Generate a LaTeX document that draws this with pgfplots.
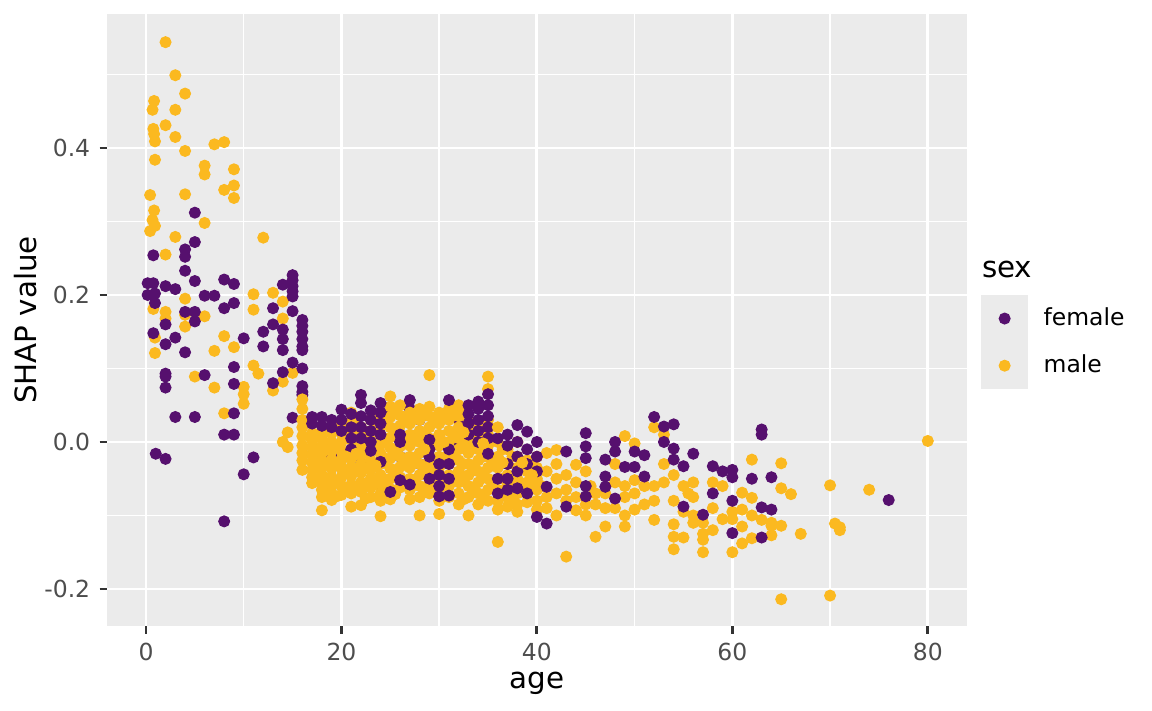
\documentclass[border=0pt]{standalone}
\usepackage{pgfplots}
\pgfplotsset{compat=1.18}
\usepackage{pgfplotstable}
\usepackage{fontspec}
\setmainfont{DejaVu Sans}
\definecolor{fem}{RGB}{86,16,110}
\definecolor{mal}{RGB}{251,185,32}
\definecolor{panelbg}{RGB}{235,235,235}
\definecolor{tickcol}{RGB}{51,51,51}
\definecolor{labcol}{RGB}{77,77,77}
\pgfplotsset{
  mystyle/.style={only marks, mark=*, mark size=2.05pt, color=#1,
    mark options={solid, line width=0.4pt, draw=#1, fill=#1}},
  keylegend/.style={legend image code/.code={
    \fill[panelbg] (-8.64pt,-8.64pt) rectangle (8.64pt,8.64pt);
    \draw[##1] plot coordinates {(0pt,0pt)};}},
}

% male, ages < 16
\pgfplotstableread[row sep=\\]{x y\\
2 0.544\\ 3 0.499\\ 4 0.474\\ 0.83 0.464\\ 0.67 0.452\\ 3 0.452\\ 0.75 0.426\\ 2 0.431\\
0.83 0.419\\ 0.92 0.409\\ 3 0.415\\ 4 0.396\\ 7 0.405\\ 8 0.408\\ 0.92 0.384\\ 6 0.376\\
6 0.364\\ 9 0.371\\ 9 0.349\\ 8 0.343\\ 9 0.332\\ 0.42 0.336\\ 4 0.337\\ 0.83 0.315\\
0.67 0.302\\ 0.92 0.294\\ 0.42 0.287\\ 6 0.298\\ 3 0.279\\ 12 0.278\\ 2 0.255\\ 4 0.195\\
0.75 0.181\\ 2 0.177\\ 2 0.168\\ 4 0.173\\ 4 0.157\\ 6 0.171\\ 0.92 0.142\\ 0.92 0.121\\
8 0.144\\ 7 0.124\\ 9 0.129\\ 5 0.089\\ 7 0.074\\ 10 0.075\\ 10 0.065\\ 10 0.052\\
11 0.104\\ 11.5 0.093\\ 11 0.201\\ 11 0.180\\ 13 0.203\\ 14 0.191\\ 14 0.168\\ 15 0.094\\
14 0.082\\ 13 0.070\\ 8 0.039\\ 14.5 0.013\\ 14 0.000\\ 14.5 -0.007\\
}\maleA

% female, ages <= 16
\pgfplotstableread[row sep=\\]{x y\\
0.17 0.216\\ 0.75 0.216\\ 0.17 0.200\\ 0.92 0.202\\ 0.92 0.189\\ 0.75 0.254\\ 0.75 0.148\\
1 -0.016\\ 2 -0.023\\ 2 0.212\\ 2 0.160\\ 2 0.133\\ 2 0.093\\ 2 0.089\\ 2 0.074\\
3 0.208\\ 3 0.142\\ 3 0.034\\ 4 0.262\\ 4 0.252\\ 4 0.233\\ 4 0.177\\ 4 0.122\\
5 0.312\\ 5 0.272\\ 5 0.219\\ 5 0.177\\ 5 0.164\\ 5 0.034\\ 6 0.199\\ 6 0.091\\ 7 0.199\\
8 0.221\\ 8 0.182\\ 8 0.010\\ 8 -0.108\\ 9 0.215\\ 9 0.189\\ 9 0.102\\ 9 0.079\\ 9 0.039\\
9 0.010\\ 10 0.141\\ 10 -0.044\\ 11 -0.021\\ 12 0.150\\ 12 0.130\\ 13 0.182\\ 13 0.160\\
13 0.080\\ 14 0.214\\ 14 0.153\\ 14 0.140\\ 14 0.125\\ 14 0.095\\ 15 0.227\\ 15 0.220\\
15 0.212\\ 15 0.205\\ 15 0.198\\ 15 0.178\\ 15 0.108\\ 15 0.033\\ 16 0.166\\ 16 0.158\\
16 0.150\\ 16 0.140\\ 16 0.130\\ 16 0.125\\ 16 0.100\\ 16 0.076\\ 16 0.068\\ 16 0.064\\
}\femA

% female, ages 17-40, drawn under the males
\pgfplotstableread[row sep=\\]{x y\\
25 0.045\\ 27 0.045\\ 28 0.030\\ 32 0.030\\ 32 -0.050\\ 19 -0.020\\ 22 -0.030\\
23 -0.055\\ 24 -0.060\\ 26 -0.020\\ 28 -0.030\\ 32 0.000\\
}\femB

% male, ages >= 16
\pgfplotstableread[row sep=\\]{x y\\
16 0.058\\ 16 0.045\\ 16 0.030\\
16 0.020\\ 16 0.008\\ 16 -0.005\\ 16 -0.015\\ 16 -0.025\\ 16 -0.038\\
17 0.012\\ 17 0.002\\ 17 -0.008\\ 17 -0.018\\ 17 -0.028\\ 17 -0.038\\ 17 -0.048\\ 17 -0.056\\
18 0.015\\ 18 0.005\\ 18 -0.005\\ 18 -0.015\\ 18 -0.025\\ 18 -0.035\\ 18 -0.045\\ 18 -0.055\\
18 -0.065\\ 18 -0.075\\ 18 -0.093\\
19 0.012\\ 19 0.000\\ 19 -0.012\\ 19 -0.024\\ 19 -0.036\\ 19 -0.048\\ 19 -0.060\\ 19 -0.070\\ 19 -0.079\\
20 0.025\\ 20 0.012\\ 20 0.000\\ 20 -0.012\\ 20 -0.024\\ 20 -0.036\\ 20 -0.048\\ 20 -0.060\\ 20 -0.072\\
21 0.040\\ 21 0.028\\ 21 0.015\\ 21 0.003\\ 21 -0.010\\ 21 -0.022\\ 21 -0.034\\ 21 -0.046\\
21 -0.058\\ 21 -0.070\\ 21 -0.088\\
22 0.020\\ 22 0.008\\ 22 -0.005\\ 22 -0.018\\ 22 -0.030\\ 22 -0.042\\ 22 -0.055\\ 22 -0.068\\ 22 -0.086\\
23 0.030\\ 23 0.015\\ 23 0.002\\ 23 -0.012\\ 23 -0.025\\ 23 -0.038\\ 23 -0.050\\ 23 -0.062\\ 23 -0.075\\
24 0.035\\ 24 0.022\\ 24 0.010\\ 24 -0.003\\ 24 -0.016\\ 24 -0.030\\ 24 -0.045\\ 24 -0.058\\
24 -0.070\\ 24 -0.080\\ 24 -0.101\\
25 0.062\\ 25 0.048\\ 25 0.034\\ 25 0.020\\ 25 0.006\\ 25 -0.008\\ 25 -0.022\\ 25 -0.036\\
25 -0.050\\ 25 -0.064\\ 25 -0.078\\
26 0.050\\ 26 0.036\\ 26 0.022\\ 26 0.008\\ 26 -0.006\\ 26 -0.020\\ 26 -0.034\\ 26 -0.048\\ 26 -0.062\\
27 0.040\\ 27 0.025\\ 27 0.010\\ 27 -0.005\\ 27 -0.020\\ 27 -0.035\\ 27 -0.050\\ 27 -0.065\\ 27 -0.078\\
28 0.045\\ 28 0.030\\ 28 0.015\\ 28 0.000\\ 28 -0.015\\ 28 -0.030\\ 28 -0.045\\ 28 -0.060\\
28 -0.075\\ 28 -0.100\\
29 0.091\\ 29 0.048\\ 29 0.035\\ 29 0.020\\ 29 0.005\\ 29 -0.010\\ 29 -0.025\\ 29 -0.040\\
29 -0.055\\ 29 -0.070\\
30 0.040\\ 30 0.025\\ 30 0.010\\ 30 -0.005\\ 30 -0.020\\ 30 -0.035\\ 30 -0.050\\ 30 -0.065\\
30 -0.080\\ 30 -0.098\\
31 0.045\\ 31 0.030\\ 31 0.015\\ 31 0.000\\ 31 -0.015\\ 31 -0.030\\ 31 -0.045\\ 31 -0.060\\ 31 -0.075\\
32 0.050\\ 32 0.035\\ 32 0.020\\ 32 0.005\\ 32 -0.010\\ 32 -0.025\\ 32 -0.040\\ 32 -0.055\\
32 -0.070\\ 32 -0.085\\
33 0.030\\ 33 0.015\\ 33 0.000\\ 33 -0.015\\ 33 -0.030\\ 33 -0.045\\ 33 -0.060\\ 33 -0.075\\ 33 -0.100\\
34 0.020\\ 34 0.005\\ 34 -0.010\\ 34 -0.025\\ 34 -0.040\\ 34 -0.055\\ 34 -0.070\\ 34 -0.085\\
35 0.089\\ 35 0.072\\ 35 0.030\\ 35 0.010\\ 35 -0.005\\ 35 -0.020\\ 35 -0.035\\ 35 -0.050\\
35 -0.065\\ 35 -0.080\\
36 0.000\\ 36 -0.020\\ 36 -0.035\\ 36 -0.050\\ 36 -0.065\\ 36 -0.080\\ 36 -0.092\\
36 -0.136\\ 36.5 -0.050\\
37 -0.010\\ 37 -0.030\\ 37 -0.045\\ 37 -0.060\\ 37 -0.075\\ 37 -0.088\\
38 0.000\\ 38 -0.020\\ 38 -0.035\\ 38 -0.050\\ 38 -0.070\\ 38 -0.085\\ 38 -0.095\\
39 -0.025\\ 39 -0.040\\ 39 -0.055\\ 39 -0.070\\ 39 -0.082\\
40 -0.020\\ 40 -0.035\\ 40 -0.050\\ 40 -0.065\\ 40 -0.080\\ 40 -0.092\\ 40.5 -0.060\\
17.5 -0.013\\ 17.5 -0.033\\ 17.5 -0.052\\
18.5 -0.010\\ 18.5 -0.030\\ 18.5 -0.050\\ 18.5 -0.070\\
19.5 -0.006\\ 19.5 -0.030\\ 19.5 -0.054\\ 19.5 -0.074\\
20.5 0.006\\ 20.5 -0.042\\ 20.5 -0.066\\
21.5 0.022\\ 21.5 0.000\\ 21.5 -0.040\\ 21.5 -0.064\\
22.5 0.014\\ 22.5 -0.012\\ 22.5 -0.036\\ 22.5 -0.060\\ 22.5 -0.077\\
23.5 0.022\\ 23.5 -0.005\\ 23.5 -0.056\\
24.5 0.028\\ 24.5 0.004\\ 24.5 -0.023\\ 24.5 -0.051\\ 24.5 -0.075\\
25.5 0.041\\ 25.5 0.013\\ 25.5 -0.015\\ 25.5 -0.043\\ 25.5 -0.071\\
26.5 0.029\\ 26.5 0.001\\ 26.5 -0.027\\ 26.5 -0.055\\
27.5 0.032\\ 27.5 0.003\\ 27.5 -0.028\\ 27.5 -0.058\\
28.5 0.038\\ 28.5 0.008\\ 28.5 -0.038\\ 28.5 -0.068\\
29.5 0.028\\ 29.5 -0.002\\ 29.5 -0.033\\ 29.5 -0.062\\
30.5 0.032\\ 30.5 -0.028\\ 30.5 -0.058\\
31.5 0.038\\ 31.5 0.008\\ 31.5 -0.022\\ 31.5 -0.052\\
32.5 0.043\\ 32.5 -0.003\\ 32.5 -0.030\\ 32.5 -0.048\\ 32.5 -0.078\\
33.5 0.022\\ 33.5 -0.008\\ 33.5 -0.038\\ 33.5 -0.068\\
34.5 0.013\\ 34.5 -0.020\\ 34.5 -0.048\\ 34.5 -0.078\\
35.5 0.002\\ 35.5 -0.028\\ 35.5 -0.058\\
36.5 -0.010\\ 36.5 -0.072\\
37.5 -0.020\\ 37.5 -0.052\\ 37.5 -0.080\\
38.5 -0.060\\ 39.5 -0.032\\ 39.5 -0.062\\
41 -0.015\\ 41 -0.040\\ 41 -0.075\\ 41 -0.090\\
42 -0.011\\ 42 -0.030\\ 42 -0.050\\ 42 -0.070\\ 42 -0.100\\
43 -0.156\\ 43 -0.045\\ 43 -0.065\\ 43 -0.080\\
44 -0.031\\ 44 -0.055\\ 44 -0.093\\ 44 -0.075\\
45 -0.040\\ 45 -0.085\\ 45 -0.100\\ 45.5 -0.060\\
46 -0.129\\ 46 -0.070\\ 46 -0.085\\
47 -0.115\\ 47 -0.070\\ 47 -0.090\\
48 -0.030\\ 48 -0.055\\ 48 -0.090\\
49 0.008\\ 49 -0.100\\ 49 -0.115\\ 49 -0.060\\ 49 -0.075\\
50 -0.002\\ 50 -0.052\\ 50 -0.070\\ 50 -0.092\\
51 -0.060\\ 51 -0.085\\
52 0.020\\ 52 -0.060\\ 52 -0.106\\ 52 -0.080\\
53 0.010\\ 53 -0.030\\ 53 -0.055\\
54 -0.045\\ 54 -0.080\\ 54 -0.112\\ 54 -0.129\\ 54 -0.146\\
55 -0.060\\ 55 -0.095\\ 55 -0.130\\ 55.5 -0.070\\
56 -0.055\\ 56 -0.075\\ 56 -0.100\\ 56 -0.110\\
57 -0.110\\ 57 -0.125\\ 57 -0.133\\ 57 -0.150\\
58 -0.055\\ 58 -0.090\\ 58 -0.120\\
59 -0.060\\ 59 -0.105\\
60 -0.095\\ 60 -0.105\\ 60 -0.150\\
61 -0.069\\ 61 -0.092\\ 61 -0.115\\ 61 -0.138\\
62 -0.024\\ 62 -0.076\\ 62 -0.131\\ 62 -0.100\\
63 -0.106\\ 64 -0.110\\ 64 -0.114\\ 64 -0.127\\
65 -0.029\\ 65 -0.063\\ 65 -0.114\\ 65 -0.214\\
66 -0.071\\ 67 -0.125\\ 70 -0.059\\ 70 -0.209\\ 70.5 -0.111\\ 71 -0.120\\ 71 -0.116\\
74 -0.065\\ 80 0.0014\\
}\maleB

% female, ages 17-40, drawn over the males
\pgfplotstableread[row sep=\\]{x y\\
17 0.034\\ 17 0.025\\ 18 0.034\\ 18 0.022\\ 19 0.030\\ 19 0.020\\ 20 0.044\\ 20 0.030\\
20 0.015\\ 21 0.038\\ 21 0.020\\ 21 0.005\\ 21 -0.010\\ 22 0.064\\ 22 0.053\\ 22 0.035\\
22 0.020\\ 22 0.005\\ 23 0.043\\ 23 0.030\\ 23 0.015\\ 23 0.000\\ 23 -0.012\\ 24 0.053\\
24 0.040\\ 24 0.025\\ 24 0.010\\ 24 -0.027\\ 25 -0.068\\ 26 0.010\\ 26 0.000\\ 26 -0.052\\
27 0.057\\ 27 -0.058\\ 29 0.003\\ 29 -0.010\\ 29 -0.020\\ 29 -0.050\\ 30 -0.030\\
30 -0.045\\ 30 -0.060\\ 30 -0.074\\ 31 0.057\\ 31 -0.010\\ 31 -0.030\\ 31 -0.050\\
31 -0.073\\ 33 0.050\\ 33 0.038\\ 33 0.025\\ 33 0.010\\ 34 0.055\\ 34 0.045\\ 34 0.030\\
34 0.015\\ 34 0.000\\ 35 0.065\\ 35 0.050\\ 35 0.035\\ 35 0.020\\ 35 0.005\\ 35 -0.016\\
36 0.005\\ 36 -0.050\\ 36 -0.070\\ 37 0.010\\ 37 -0.005\\ 37 -0.030\\ 37 -0.050\\
37 -0.065\\ 38 0.023\\ 38 0.000\\ 38 -0.020\\ 38 -0.040\\ 38 -0.063\\ 39 0.014\\
39 -0.010\\ 39 -0.030\\ 39 -0.070\\ 40 0.000\\ 40 -0.020\\ 40 -0.040\\ 40 -0.102\\
}\femM

% male, a few drawn over the females
\pgfplotstableread[row sep=\\]{x y\\
20.5 -0.020\\ 28.5 -0.010\\ 30.5 0.000\\ 32.5 0.013\\ 34.5 -0.002\\ 36 0.020\\
36.5 -0.028\\ 21.5 -0.016\\ 23.5 -0.032\\ 38.5 -0.028\\ 39.5 -0.045\\
}\maleT

% female, ages > 40
\pgfplotstableread[row sep=\\]{x y\\
41 -0.061\\ 41 -0.111\\ 43 -0.013\\ 43 -0.088\\ 45 0.012\\ 45 -0.006\\ 45 -0.022\\
45 -0.060\\ 45 -0.074\\ 47 -0.024\\ 47 -0.047\\ 47 -0.061\\ 48 0.000\\ 48 -0.013\\ 48 -0.077\\
49 -0.034\\ 50 -0.013\\ 50 -0.034\\ 51 -0.018\\ 51 -0.047\\ 52 0.034\\ 53 0.021\\ 53 0.000\\
54 0.024\\ 54 -0.009\\ 54 -0.024\\ 55 -0.033\\ 55 -0.088\\ 56 -0.016\\ 57 -0.099\\ 58 -0.033\\
58 -0.070\\ 59 -0.040\\ 60 -0.038\\ 60 -0.048\\ 60 -0.080\\ 60 -0.124\\ 62 -0.050\\
63 0.017\\ 63 0.010\\ 63 -0.089\\ 63 -0.130\\ 64 -0.048\\ 64 -0.092\\ 76 -0.079\\
}\femC

\begin{document}
\begin{tikzpicture}
\useasboundingbox (0,0) rectangle (432pt,266.625pt);
\begin{axis}[
  at={(40.09pt,31.73pt)}, anchor=south west,
  scale only axis, width=322.5pt, height=229.8pt,
  xmin=-4, xmax=84, ymin=-0.2509, ymax=0.5829,
  axis line style={draw=none},
  axis background/.style={fill=panelbg},
  xtick={0,20,40,60,80}, xticklabels={0,20,40,60,80},
  ytick={-0.2,0,0.2,0.4}, yticklabels={-0.2,0.0,0.2,0.4},
  minor xtick={10,30,50,70}, minor ytick={-0.1,0.1,0.3,0.5},
  grid=both,
  major grid style={white, line width=1.07pt},
  minor grid style={white, line width=0.53pt},
  tick align=outside, tick pos=left,
  major tick length=2.75pt, minor tick length=0pt,
  tick style={tickcol, line width=1.07pt},
  tick label style={font=\fontsize{8.8}{10}\selectfont, text=labcol},
  legend cell align=left,
  legend style={at={(1.0165,0.5408)}, anchor=north west, draw=none, fill=none,
    inner sep=0pt, outer sep=0pt, row sep=0pt, column sep=0pt,
    font=\fontsize{8.8}{10}\selectfont,
    nodes={inner sep=0pt, outer sep=0pt},
    /tikz/every odd column/.append style={column sep=5.8pt}},
]
\addplot[mystyle=mal, forget plot] table[x=x,y=y]{\maleA};
\addplot[mystyle=fem, forget plot] table[x=x,y=y]{\femA};
\addplot[mystyle=fem, forget plot] table[x=x,y=y]{\femB};
\addplot[mystyle=mal, forget plot] table[x=x,y=y]{\maleB};
\addplot[mystyle=fem, forget plot] table[x=x,y=y]{\femM};
\addplot[mystyle=mal, forget plot] table[x=x,y=y]{\maleT};
\addplot[mystyle=fem, forget plot] table[x=x,y=y]{\femC};
\addlegendimage{mystyle=fem, keylegend}
\addlegendentry{female}
\addlegendimage{mystyle=mal, keylegend}
\addlegendentry{male}
\end{axis}
\node[anchor=base, inner sep=0pt, font=\fontsize{11}{13}\selectfont] at (201.34pt,8.3pt) {age};
\node[anchor=base, rotate=90, inner sep=0pt, font=\fontsize{11}{13}\selectfont] at (13.7pt,146.63pt) {SHAP value};
\node[anchor=base west, inner sep=0pt, font=\fontsize{11}{13}\selectfont] at (368.1pt,162.5pt) {sex};
\end{tikzpicture}
\end{document}
